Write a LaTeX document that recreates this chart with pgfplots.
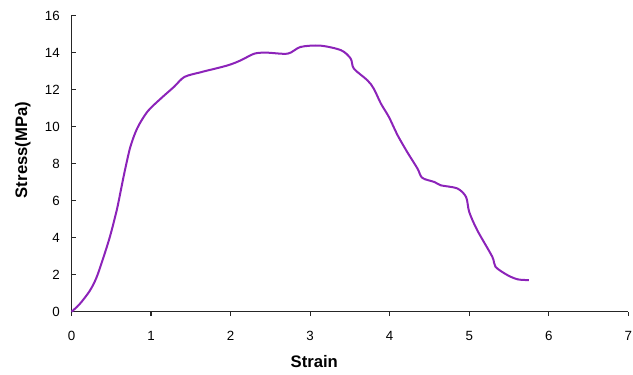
\documentclass[border=0pt]{standalone}
\usepackage{fontspec}
\setmainfont{Liberation Sans}
\usepackage{pgfplots}
\pgfplotsset{compat=1.18}
\definecolor{curve}{RGB}{140,35,185}
\begin{document}
\begin{tikzpicture}
\begin{axis}[
  scale only axis,
  width=417.6pt, height=222.2pt,
  xmin=0, xmax=7, ymin=0, ymax=16,
  axis x line=bottom, axis y line=left,
  axis line style={-, line width=0.9pt, black!85},
  xtick={0,1,...,7}, ytick={0,2,...,16},
  tick align=outside,
  major tick length=3.2pt,
  tick style={line width=0.9pt, black!85},
  y tick style={xshift=3.2pt},
  /pgf/number format/assume math mode=true,
  tick label style={font=\fontsize{10}{12}\selectfont},
  xticklabel style={yshift=-8pt},
  yticklabel style={xshift=-2pt},
  xlabel={Strain},
  ylabel={Stress(MPa)},
  every axis x label/.style={at={(axis description cs:0.436,-0.1697)}, anchor=center, font=\fontsize{12.5}{15}\selectfont\bfseries},
  every axis y label/.style={at={(axis description cs:-0.0872,0.546)}, anchor=center, rotate=90, font=\fontsize{12.5}{15}\selectfont\bfseries},
  clip=false,
]
\addplot[curve, line width=1.5pt, smooth, tension=0.5] coordinates {
(0,0) (0.10,0.40) (0.227,1.11) (0.313,1.83) (0.40,2.91) (0.485,4.08) (0.571,5.52)
(0.635,6.87) (0.678,7.76) (0.742,8.93) (0.828,9.92) (0.957,10.82) (1.13,11.54)
(1.29,12.15) (1.42,12.68) (1.63,12.94) (1.96,13.3) (2.13,13.58) (2.30,13.94) (2.46,13.99)
(2.72,13.94) (2.88,14.3) (3.13,14.37) (3.39,14.12) (3.51,13.67) (3.55,13.13)
(3.72,12.5) (3.80,12.05) (3.89,11.24) (3.99,10.52) (4.10,9.53) (4.22,8.63)
(4.35,7.73) (4.41,7.23) (4.56,7.01) (4.64,6.83) (4.85,6.66) (4.96,6.2)
(5.0,5.39) (5.10,4.41) (5.29,2.97) (5.33,2.43) (5.48,1.98) (5.61,1.75) (5.75,1.71)
};
\end{axis}
\pgfresetboundingbox
\path (-53.6pt,-46.7pt) rectangle (421.1pt,233.8pt);
\end{tikzpicture}
\end{document}
